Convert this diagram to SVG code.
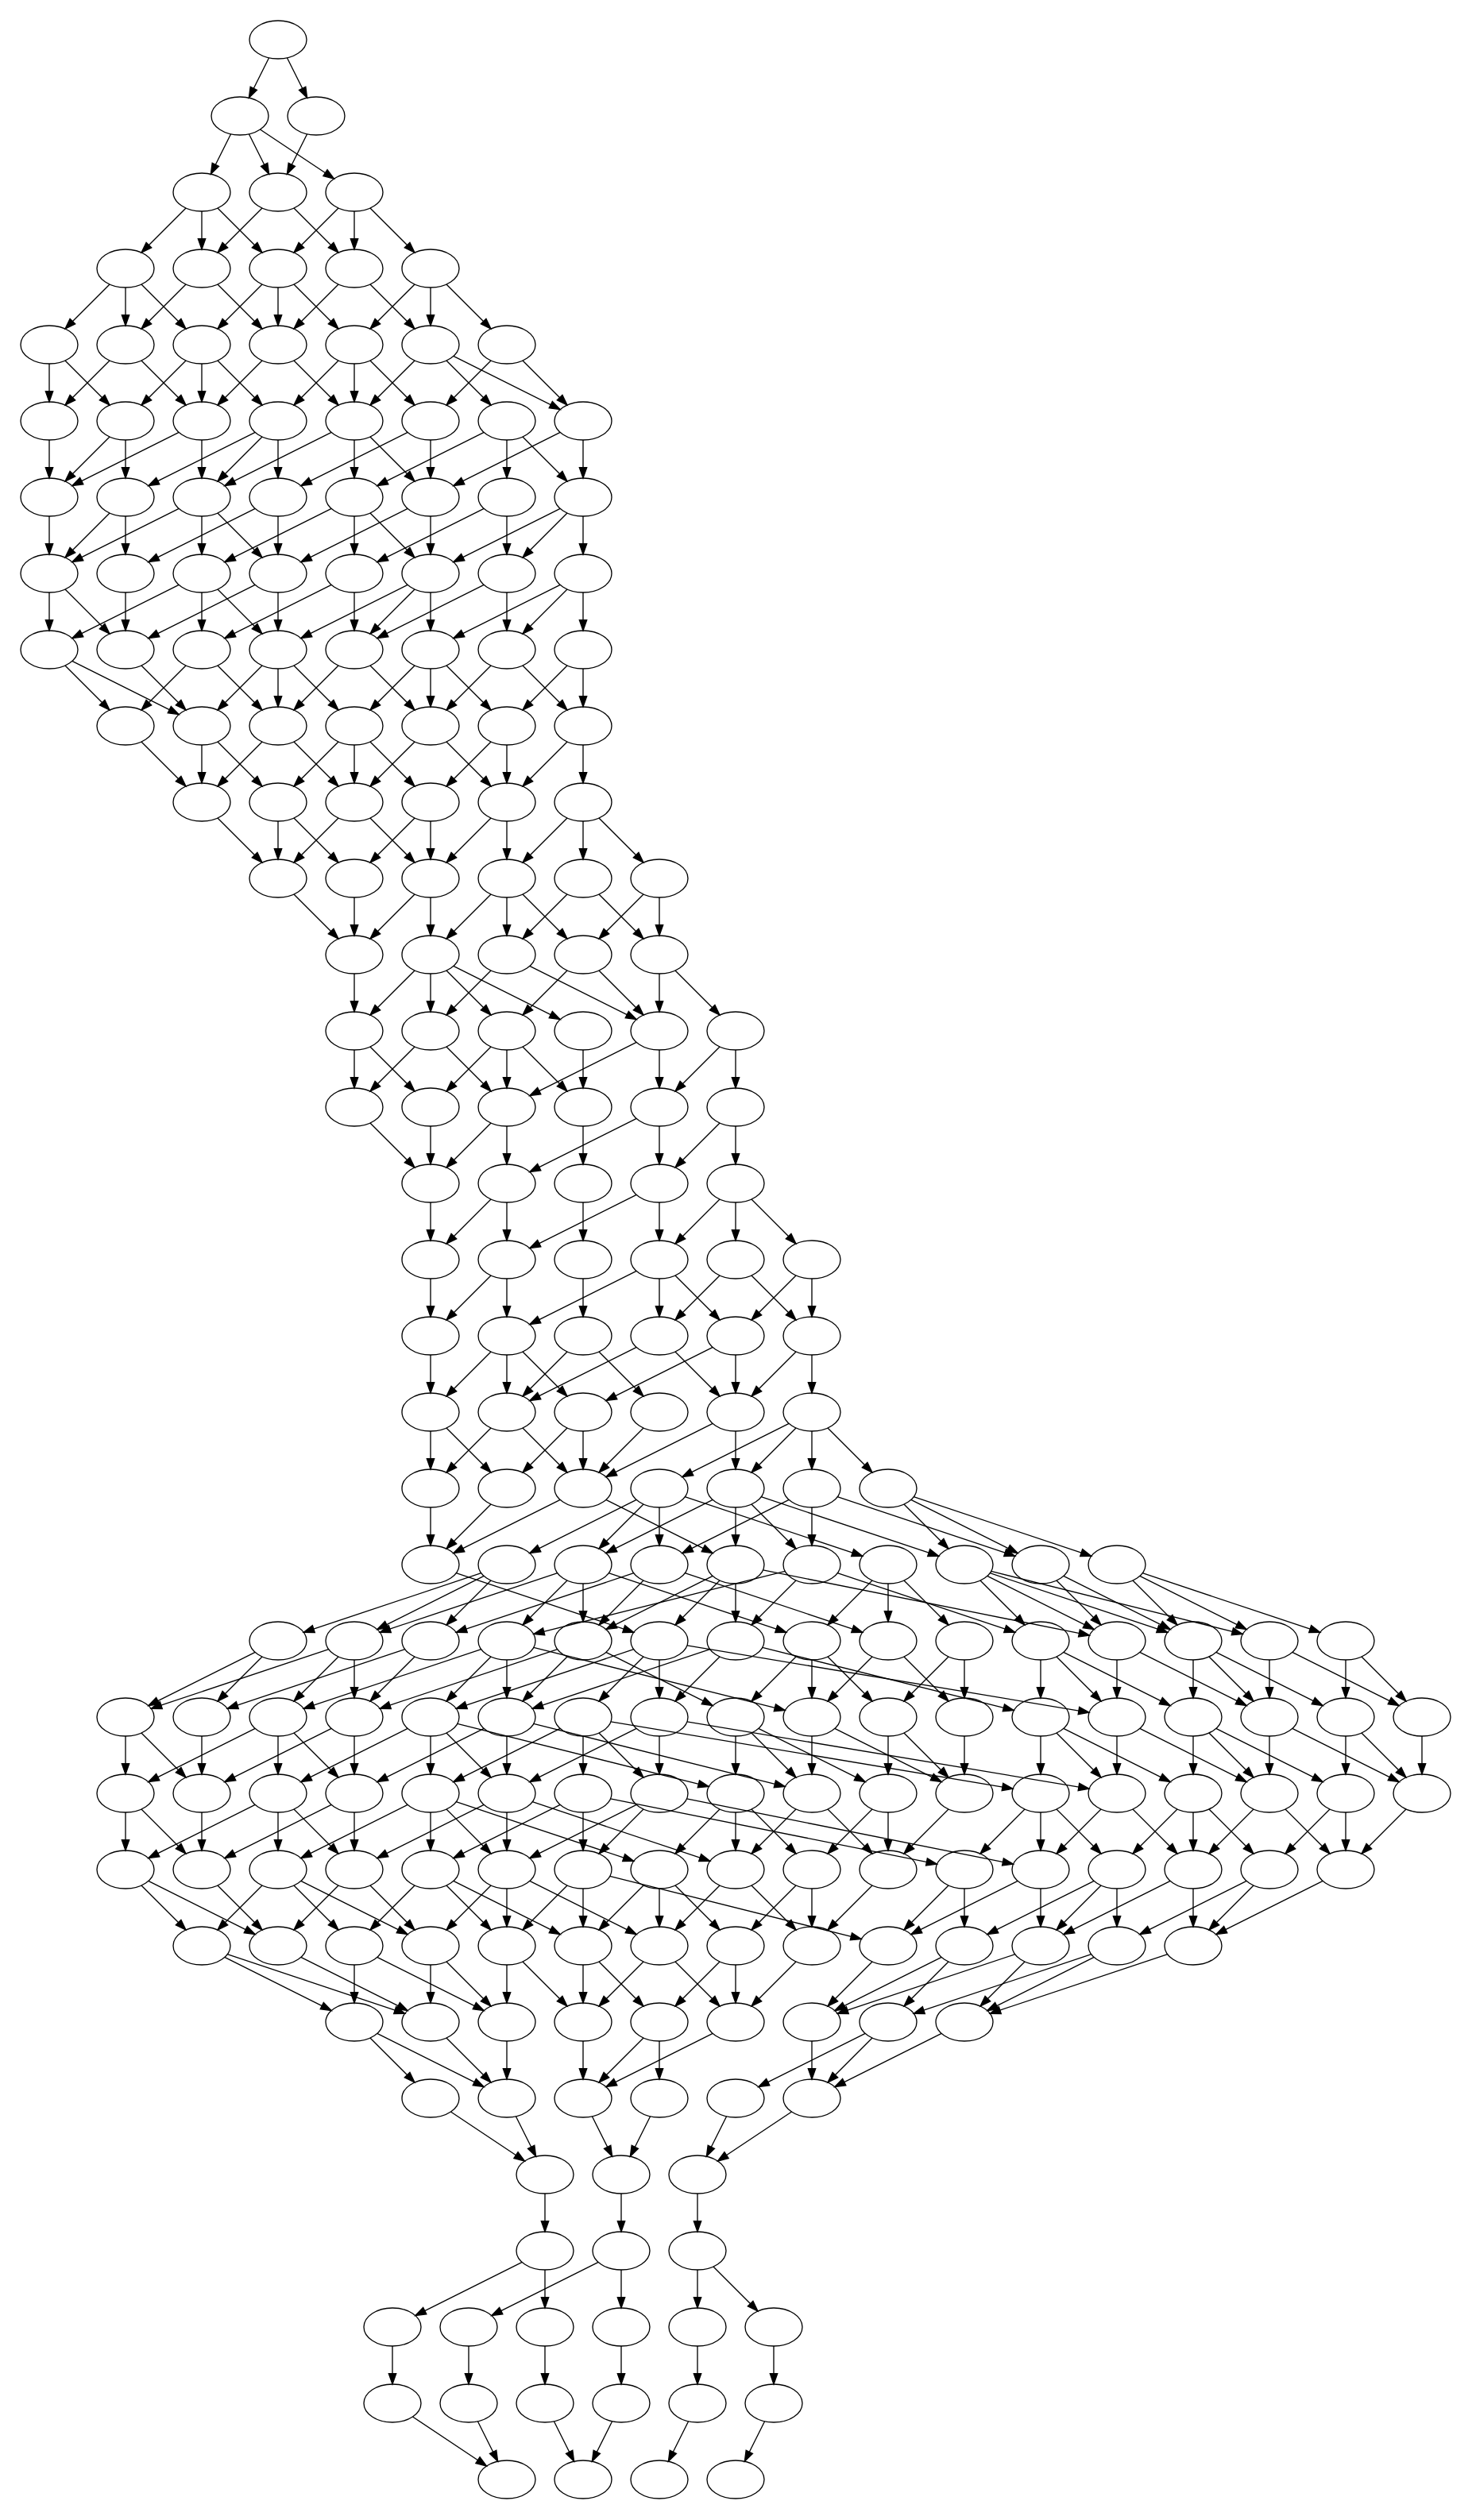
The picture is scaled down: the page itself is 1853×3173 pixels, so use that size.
<svg xmlns="http://www.w3.org/2000/svg" width="1853" height="3173" viewBox="0 0 1853 3173">
<style>
.nd{fill:none;stroke:#000;stroke-width:1.33}
#edges path{fill:none;stroke:#000;stroke-width:1.33}
marker path{fill:#000;stroke:#000;stroke-width:1.33}
.k0{stroke-dasharray:0 24 38 999;marker-end:url(#a0)}
.k1{stroke-dasharray:0 25.46 46.41 999;marker-end:url(#a1)}
.k2{stroke-dasharray:0 28.24 69.28 999;marker-end:url(#a2)}
.k3{stroke-dasharray:0 30.59 101.89 999;marker-end:url(#a3)}
.k4{stroke-dasharray:0 32.2 140.26 999;marker-end:url(#a4)}
.k6{stroke-dasharray:0 33.94 225.7 999;marker-end:url(#a6)}
.k8{stroke-dasharray:0 34.74 316.34 999;marker-end:url(#a8)}
.k10{stroke-dasharray:0 35.16 409.18 999;marker-end:url(#a10)}
.k12{stroke-dasharray:0 35.41 503.15 999;marker-end:url(#a12)}
</style>
<defs>
<marker id="a0" markerUnits="userSpaceOnUse" orient="auto" viewBox="-2 -7 64 14" markerWidth="64" markerHeight="14" refX="37.33" refY="0" overflow="visible"><path d="M0-4.67L13.33 0L0 4.67z"/></marker>
<marker id="a1" markerUnits="userSpaceOnUse" orient="auto" viewBox="-2 -7 64 14" markerWidth="64" markerHeight="14" refX="38.79" refY="0" overflow="visible"><path d="M0-4.67L13.33 0L0 4.67z"/></marker>
<marker id="a2" markerUnits="userSpaceOnUse" orient="auto" viewBox="-2 -7 64 14" markerWidth="64" markerHeight="14" refX="41.57" refY="0" overflow="visible"><path d="M0-4.67L13.33 0L0 4.67z"/></marker>
<marker id="a3" markerUnits="userSpaceOnUse" orient="auto" viewBox="-2 -7 64 14" markerWidth="64" markerHeight="14" refX="43.92" refY="0" overflow="visible"><path d="M0-4.67L13.33 0L0 4.67z"/></marker>
<marker id="a4" markerUnits="userSpaceOnUse" orient="auto" viewBox="-2 -7 64 14" markerWidth="64" markerHeight="14" refX="45.53" refY="0" overflow="visible"><path d="M0-4.67L13.33 0L0 4.67z"/></marker>
<marker id="a6" markerUnits="userSpaceOnUse" orient="auto" viewBox="-2 -7 64 14" markerWidth="64" markerHeight="14" refX="47.27" refY="0" overflow="visible"><path d="M0-4.67L13.33 0L0 4.67z"/></marker>
<marker id="a8" markerUnits="userSpaceOnUse" orient="auto" viewBox="-2 -7 64 14" markerWidth="64" markerHeight="14" refX="48.07" refY="0" overflow="visible"><path d="M0-4.67L13.33 0L0 4.67z"/></marker>
<marker id="a10" markerUnits="userSpaceOnUse" orient="auto" viewBox="-2 -7 64 14" markerWidth="64" markerHeight="14" refX="48.49" refY="0" overflow="visible"><path d="M0-4.67L13.33 0L0 4.67z"/></marker>
<marker id="a12" markerUnits="userSpaceOnUse" orient="auto" viewBox="-2 -7 64 14" markerWidth="64" markerHeight="14" refX="48.74" refY="0" overflow="visible"><path d="M0-4.67L13.33 0L0 4.67z"/></marker>
</defs>
<rect width="1853" height="3173" fill="#fff"/>
<g transform="translate(14 -46)">
<g id="edges">
<path class="k1" d="M336 96L288 192"/><path class="k1" d="M336 96L384 192"/>
<path class="k1" d="M288 192L240 288"/><path class="k1" d="M288 192L336 288"/><path class="k3" d="M288 192L432 288"/><path class="k1" d="M384 192L336 288"/>
<path class="k2" d="M240 288L144 384"/><path class="k0" d="M240 288L240 384"/><path class="k2" d="M240 288L336 384"/><path class="k2" d="M336 288L240 384"/><path class="k2" d="M336 288L432 384"/><path class="k2" d="M432 288L336 384"/><path class="k0" d="M432 288L432 384"/><path class="k2" d="M432 288L528 384"/>
<path class="k2" d="M144 384L48 480"/><path class="k0" d="M144 384L144 480"/><path class="k2" d="M144 384L240 480"/><path class="k2" d="M240 384L144 480"/><path class="k2" d="M240 384L336 480"/><path class="k2" d="M336 384L240 480"/><path class="k0" d="M336 384L336 480"/><path class="k2" d="M336 384L432 480"/><path class="k2" d="M432 384L336 480"/><path class="k2" d="M432 384L528 480"/><path class="k2" d="M528 384L432 480"/><path class="k0" d="M528 384L528 480"/><path class="k2" d="M528 384L624 480"/>
<path class="k0" d="M48 480L48 576"/><path class="k2" d="M48 480L144 576"/><path class="k2" d="M144 480L48 576"/><path class="k2" d="M144 480L240 576"/><path class="k2" d="M240 480L144 576"/><path class="k0" d="M240 480L240 576"/><path class="k2" d="M240 480L336 576"/><path class="k2" d="M336 480L240 576"/><path class="k2" d="M336 480L432 576"/><path class="k2" d="M432 480L336 576"/><path class="k0" d="M432 480L432 576"/><path class="k2" d="M432 480L528 576"/><path class="k2" d="M528 480L432 576"/><path class="k2" d="M528 480L624 576"/><path class="k4" d="M528 480L720 576"/><path class="k2" d="M624 480L528 576"/><path class="k2" d="M624 480L720 576"/>
<path class="k0" d="M48 576L48 672"/><path class="k2" d="M144 576L48 672"/><path class="k0" d="M144 576L144 672"/><path class="k4" d="M240 576L48 672"/><path class="k0" d="M240 576L240 672"/><path class="k4" d="M336 576L144 672"/><path class="k2" d="M336 576L240 672"/><path class="k0" d="M336 576L336 672"/><path class="k4" d="M432 576L240 672"/><path class="k0" d="M432 576L432 672"/><path class="k2" d="M432 576L528 672"/><path class="k4" d="M528 576L336 672"/><path class="k0" d="M528 576L528 672"/><path class="k4" d="M624 576L432 672"/><path class="k0" d="M624 576L624 672"/><path class="k2" d="M624 576L720 672"/><path class="k4" d="M720 576L528 672"/><path class="k0" d="M720 576L720 672"/>
<path class="k0" d="M48 672L48 768"/><path class="k2" d="M144 672L48 768"/><path class="k0" d="M144 672L144 768"/><path class="k4" d="M240 672L48 768"/><path class="k0" d="M240 672L240 768"/><path class="k2" d="M240 672L336 768"/><path class="k4" d="M336 672L144 768"/><path class="k0" d="M336 672L336 768"/><path class="k4" d="M432 672L240 768"/><path class="k0" d="M432 672L432 768"/><path class="k2" d="M432 672L528 768"/><path class="k4" d="M528 672L336 768"/><path class="k0" d="M528 672L528 768"/><path class="k4" d="M624 672L432 768"/><path class="k0" d="M624 672L624 768"/><path class="k4" d="M720 672L528 768"/><path class="k2" d="M720 672L624 768"/><path class="k0" d="M720 672L720 768"/>
<path class="k0" d="M48 768L48 864"/><path class="k2" d="M48 768L144 864"/><path class="k0" d="M144 768L144 864"/><path class="k4" d="M240 768L48 864"/><path class="k0" d="M240 768L240 864"/><path class="k2" d="M240 768L336 864"/><path class="k4" d="M336 768L144 864"/><path class="k0" d="M336 768L336 864"/><path class="k4" d="M432 768L240 864"/><path class="k0" d="M432 768L432 864"/><path class="k4" d="M528 768L336 864"/><path class="k2" d="M528 768L432 864"/><path class="k0" d="M528 768L528 864"/><path class="k4" d="M624 768L432 864"/><path class="k0" d="M624 768L624 864"/><path class="k4" d="M720 768L528 864"/><path class="k2" d="M720 768L624 864"/><path class="k0" d="M720 768L720 864"/>
<path class="k2" d="M48 864L144 960"/><path class="k4" d="M48 864L240 960"/><path class="k2" d="M144 864L240 960"/><path class="k2" d="M240 864L144 960"/><path class="k2" d="M240 864L336 960"/><path class="k2" d="M336 864L240 960"/><path class="k0" d="M336 864L336 960"/><path class="k2" d="M336 864L432 960"/><path class="k2" d="M432 864L336 960"/><path class="k2" d="M432 864L528 960"/><path class="k2" d="M528 864L432 960"/><path class="k0" d="M528 864L528 960"/><path class="k2" d="M528 864L624 960"/><path class="k2" d="M624 864L528 960"/><path class="k2" d="M624 864L720 960"/><path class="k2" d="M720 864L624 960"/><path class="k0" d="M720 864L720 960"/>
<path class="k2" d="M144 960L240 1056"/><path class="k0" d="M240 960L240 1056"/><path class="k2" d="M240 960L336 1056"/><path class="k2" d="M336 960L240 1056"/><path class="k2" d="M336 960L432 1056"/><path class="k2" d="M432 960L336 1056"/><path class="k0" d="M432 960L432 1056"/><path class="k2" d="M432 960L528 1056"/><path class="k2" d="M528 960L432 1056"/><path class="k2" d="M528 960L624 1056"/><path class="k2" d="M624 960L528 1056"/><path class="k0" d="M624 960L624 1056"/><path class="k2" d="M720 960L624 1056"/><path class="k0" d="M720 960L720 1056"/>
<path class="k2" d="M240 1056L336 1152"/><path class="k0" d="M336 1056L336 1152"/><path class="k2" d="M336 1056L432 1152"/><path class="k2" d="M432 1056L336 1152"/><path class="k2" d="M432 1056L528 1152"/><path class="k2" d="M528 1056L432 1152"/><path class="k0" d="M528 1056L528 1152"/><path class="k2" d="M624 1056L528 1152"/><path class="k0" d="M624 1056L624 1152"/><path class="k2" d="M720 1056L624 1152"/><path class="k0" d="M720 1056L720 1152"/><path class="k2" d="M720 1056L816 1152"/>
<path class="k2" d="M336 1152L432 1248"/><path class="k0" d="M432 1152L432 1248"/><path class="k2" d="M528 1152L432 1248"/><path class="k0" d="M528 1152L528 1248"/><path class="k2" d="M624 1152L528 1248"/><path class="k0" d="M624 1152L624 1248"/><path class="k2" d="M624 1152L720 1248"/><path class="k2" d="M720 1152L624 1248"/><path class="k2" d="M720 1152L816 1248"/><path class="k2" d="M816 1152L720 1248"/><path class="k0" d="M816 1152L816 1248"/>
<path class="k0" d="M432 1248L432 1344"/><path class="k2" d="M528 1248L432 1344"/><path class="k0" d="M528 1248L528 1344"/><path class="k2" d="M528 1248L624 1344"/><path class="k4" d="M528 1248L720 1344"/><path class="k2" d="M624 1248L528 1344"/><path class="k4" d="M624 1248L816 1344"/><path class="k2" d="M720 1248L624 1344"/><path class="k2" d="M720 1248L816 1344"/><path class="k0" d="M816 1248L816 1344"/><path class="k2" d="M816 1248L912 1344"/>
<path class="k0" d="M432 1344L432 1440"/><path class="k2" d="M432 1344L528 1440"/><path class="k2" d="M528 1344L432 1440"/><path class="k2" d="M528 1344L624 1440"/><path class="k2" d="M624 1344L528 1440"/><path class="k0" d="M624 1344L624 1440"/><path class="k2" d="M624 1344L720 1440"/><path class="k0" d="M720 1344L720 1440"/><path class="k4" d="M816 1344L624 1440"/><path class="k0" d="M816 1344L816 1440"/><path class="k2" d="M912 1344L816 1440"/><path class="k0" d="M912 1344L912 1440"/>
<path class="k2" d="M432 1440L528 1536"/><path class="k0" d="M528 1440L528 1536"/><path class="k2" d="M624 1440L528 1536"/><path class="k0" d="M624 1440L624 1536"/><path class="k0" d="M720 1440L720 1536"/><path class="k4" d="M816 1440L624 1536"/><path class="k0" d="M816 1440L816 1536"/><path class="k2" d="M912 1440L816 1536"/><path class="k0" d="M912 1440L912 1536"/>
<path class="k0" d="M528 1536L528 1632"/><path class="k2" d="M624 1536L528 1632"/><path class="k0" d="M624 1536L624 1632"/><path class="k0" d="M720 1536L720 1632"/><path class="k4" d="M816 1536L624 1632"/><path class="k0" d="M816 1536L816 1632"/><path class="k2" d="M912 1536L816 1632"/><path class="k0" d="M912 1536L912 1632"/><path class="k2" d="M912 1536L1008 1632"/>
<path class="k0" d="M528 1632L528 1728"/><path class="k2" d="M624 1632L528 1728"/><path class="k0" d="M624 1632L624 1728"/><path class="k0" d="M720 1632L720 1728"/><path class="k4" d="M816 1632L624 1728"/><path class="k0" d="M816 1632L816 1728"/><path class="k2" d="M816 1632L912 1728"/><path class="k2" d="M912 1632L816 1728"/><path class="k2" d="M912 1632L1008 1728"/><path class="k2" d="M1008 1632L912 1728"/><path class="k0" d="M1008 1632L1008 1728"/>
<path class="k0" d="M528 1728L528 1824"/><path class="k2" d="M624 1728L528 1824"/><path class="k0" d="M624 1728L624 1824"/><path class="k2" d="M624 1728L720 1824"/><path class="k2" d="M720 1728L624 1824"/><path class="k2" d="M720 1728L816 1824"/><path class="k4" d="M816 1728L624 1824"/><path class="k2" d="M816 1728L912 1824"/><path class="k4" d="M912 1728L720 1824"/><path class="k0" d="M912 1728L912 1824"/><path class="k2" d="M1008 1728L912 1824"/><path class="k0" d="M1008 1728L1008 1824"/>
<path class="k0" d="M528 1824L528 1920"/><path class="k2" d="M528 1824L624 1920"/><path class="k2" d="M624 1824L528 1920"/><path class="k2" d="M624 1824L720 1920"/><path class="k2" d="M720 1824L624 1920"/><path class="k0" d="M720 1824L720 1920"/><path class="k2" d="M816 1824L720 1920"/><path class="k4" d="M912 1824L720 1920"/><path class="k0" d="M912 1824L912 1920"/><path class="k4" d="M1008 1824L816 1920"/><path class="k2" d="M1008 1824L912 1920"/><path class="k0" d="M1008 1824L1008 1920"/><path class="k2" d="M1008 1824L1104 1920"/>
<path class="k0" d="M528 1920L528 2016"/><path class="k2" d="M624 1920L528 2016"/><path class="k4" d="M720 1920L528 2016"/><path class="k4" d="M720 1920L912 2016"/><path class="k4" d="M816 1920L624 2016"/><path class="k2" d="M816 1920L720 2016"/><path class="k0" d="M816 1920L816 2016"/><path class="k6" d="M816 1920L1104 2016"/><path class="k4" d="M912 1920L720 2016"/><path class="k0" d="M912 1920L912 2016"/><path class="k2" d="M912 1920L1008 2016"/><path class="k6" d="M912 1920L1200 2016"/><path class="k4" d="M1008 1920L816 2016"/><path class="k0" d="M1008 1920L1008 2016"/><path class="k6" d="M1008 1920L1296 2016"/><path class="k2" d="M1104 1920L1200 2016"/><path class="k4" d="M1104 1920L1296 2016"/><path class="k6" d="M1104 1920L1392 2016"/>
<path class="k6" d="M528 2016L816 2112"/><path class="k6" d="M624 2016L336 2112"/><path class="k4" d="M624 2016L432 2112"/><path class="k2" d="M624 2016L528 2112"/><path class="k6" d="M720 2016L432 2112"/><path class="k2" d="M720 2016L624 2112"/><path class="k0" d="M720 2016L720 2112"/><path class="k6" d="M720 2016L1008 2112"/><path class="k6" d="M816 2016L528 2112"/><path class="k2" d="M816 2016L720 2112"/><path class="k6" d="M816 2016L1104 2112"/><path class="k4" d="M912 2016L720 2112"/><path class="k2" d="M912 2016L816 2112"/><path class="k0" d="M912 2016L912 2112"/><path class="k10" d="M912 2016L1392 2112"/><path class="k8" d="M1008 2016L624 2112"/><path class="k2" d="M1008 2016L912 2112"/><path class="k6" d="M1008 2016L1296 2112"/><path class="k2" d="M1104 2016L1008 2112"/><path class="k0" d="M1104 2016L1104 2112"/><path class="k2" d="M1104 2016L1200 2112"/><path class="k2" d="M1200 2016L1296 2112"/><path class="k4" d="M1200 2016L1392 2112"/><path class="k6" d="M1200 2016L1488 2112"/><path class="k8" d="M1200 2016L1584 2112"/><path class="k2" d="M1296 2016L1392 2112"/><path class="k4" d="M1296 2016L1488 2112"/><path class="k2" d="M1392 2016L1488 2112"/><path class="k4" d="M1392 2016L1584 2112"/><path class="k6" d="M1392 2016L1680 2112"/>
<path class="k4" d="M336 2112L144 2208"/><path class="k2" d="M336 2112L240 2208"/><path class="k6" d="M432 2112L144 2208"/><path class="k2" d="M432 2112L336 2208"/><path class="k0" d="M432 2112L432 2208"/><path class="k6" d="M528 2112L240 2208"/><path class="k2" d="M528 2112L432 2208"/><path class="k6" d="M624 2112L336 2208"/><path class="k2" d="M624 2112L528 2208"/><path class="k0" d="M624 2112L624 2208"/><path class="k8" d="M624 2112L1008 2208"/><path class="k6" d="M720 2112L432 2208"/><path class="k2" d="M720 2112L624 2208"/><path class="k4" d="M720 2112L912 2208"/><path class="k6" d="M816 2112L528 2208"/><path class="k2" d="M816 2112L720 2208"/><path class="k0" d="M816 2112L816 2208"/><path class="k12" d="M816 2112L1392 2208"/><path class="k6" d="M912 2112L624 2208"/><path class="k2" d="M912 2112L816 2208"/><path class="k8" d="M912 2112L1296 2208"/><path class="k2" d="M1008 2112L912 2208"/><path class="k0" d="M1008 2112L1008 2208"/><path class="k2" d="M1008 2112L1104 2208"/><path class="k2" d="M1104 2112L1008 2208"/><path class="k2" d="M1104 2112L1200 2208"/><path class="k2" d="M1200 2112L1104 2208"/><path class="k0" d="M1200 2112L1200 2208"/><path class="k0" d="M1296 2112L1296 2208"/><path class="k2" d="M1296 2112L1392 2208"/><path class="k4" d="M1296 2112L1488 2208"/><path class="k0" d="M1392 2112L1392 2208"/><path class="k4" d="M1392 2112L1584 2208"/><path class="k0" d="M1488 2112L1488 2208"/><path class="k2" d="M1488 2112L1584 2208"/><path class="k4" d="M1488 2112L1680 2208"/><path class="k0" d="M1584 2112L1584 2208"/><path class="k4" d="M1584 2112L1776 2208"/><path class="k0" d="M1680 2112L1680 2208"/><path class="k2" d="M1680 2112L1776 2208"/>
<path class="k0" d="M144 2208L144 2304"/><path class="k2" d="M144 2208L240 2304"/><path class="k0" d="M240 2208L240 2304"/><path class="k4" d="M336 2208L144 2304"/><path class="k0" d="M336 2208L336 2304"/><path class="k2" d="M336 2208L432 2304"/><path class="k4" d="M432 2208L240 2304"/><path class="k0" d="M432 2208L432 2304"/><path class="k4" d="M528 2208L336 2304"/><path class="k0" d="M528 2208L528 2304"/><path class="k2" d="M528 2208L624 2304"/><path class="k8" d="M528 2208L912 2304"/><path class="k4" d="M624 2208L432 2304"/><path class="k0" d="M624 2208L624 2304"/><path class="k8" d="M624 2208L1008 2304"/><path class="k4" d="M720 2208L528 2304"/><path class="k0" d="M720 2208L720 2304"/><path class="k2" d="M720 2208L816 2304"/><path class="k12" d="M720 2208L1296 2304"/><path class="k4" d="M816 2208L624 2304"/><path class="k0" d="M816 2208L816 2304"/><path class="k12" d="M816 2208L1392 2304"/><path class="k0" d="M912 2208L912 2304"/><path class="k2" d="M912 2208L1008 2304"/><path class="k4" d="M912 2208L1104 2304"/><path class="k0" d="M1008 2208L1008 2304"/><path class="k4" d="M1008 2208L1200 2304"/><path class="k0" d="M1104 2208L1104 2304"/><path class="k2" d="M1104 2208L1200 2304"/><path class="k0" d="M1200 2208L1200 2304"/><path class="k0" d="M1296 2208L1296 2304"/><path class="k2" d="M1296 2208L1392 2304"/><path class="k4" d="M1296 2208L1488 2304"/><path class="k0" d="M1392 2208L1392 2304"/><path class="k4" d="M1392 2208L1584 2304"/><path class="k0" d="M1488 2208L1488 2304"/><path class="k2" d="M1488 2208L1584 2304"/><path class="k4" d="M1488 2208L1680 2304"/><path class="k0" d="M1584 2208L1584 2304"/><path class="k4" d="M1584 2208L1776 2304"/><path class="k0" d="M1680 2208L1680 2304"/><path class="k2" d="M1680 2208L1776 2304"/><path class="k0" d="M1776 2208L1776 2304"/>
<path class="k0" d="M144 2304L144 2400"/><path class="k2" d="M144 2304L240 2400"/><path class="k0" d="M240 2304L240 2400"/><path class="k4" d="M336 2304L144 2400"/><path class="k0" d="M336 2304L336 2400"/><path class="k2" d="M336 2304L432 2400"/><path class="k4" d="M432 2304L240 2400"/><path class="k0" d="M432 2304L432 2400"/><path class="k4" d="M528 2304L336 2400"/><path class="k0" d="M528 2304L528 2400"/><path class="k2" d="M528 2304L624 2400"/><path class="k6" d="M528 2304L816 2400"/><path class="k4" d="M624 2304L432 2400"/><path class="k0" d="M624 2304L624 2400"/><path class="k6" d="M624 2304L912 2400"/><path class="k4" d="M720 2304L528 2400"/><path class="k0" d="M720 2304L720 2400"/><path class="k10" d="M720 2304L1200 2400"/><path class="k4" d="M816 2304L624 2400"/><path class="k2" d="M816 2304L720 2400"/><path class="k10" d="M816 2304L1296 2400"/><path class="k2" d="M912 2304L816 2400"/><path class="k0" d="M912 2304L912 2400"/><path class="k2" d="M912 2304L1008 2400"/><path class="k2" d="M1008 2304L912 2400"/><path class="k2" d="M1008 2304L1104 2400"/><path class="k2" d="M1104 2304L1008 2400"/><path class="k0" d="M1104 2304L1104 2400"/><path class="k2" d="M1200 2304L1104 2400"/><path class="k2" d="M1296 2304L1200 2400"/><path class="k0" d="M1296 2304L1296 2400"/><path class="k2" d="M1296 2304L1392 2400"/><path class="k2" d="M1392 2304L1296 2400"/><path class="k2" d="M1392 2304L1488 2400"/><path class="k2" d="M1488 2304L1392 2400"/><path class="k0" d="M1488 2304L1488 2400"/><path class="k2" d="M1488 2304L1584 2400"/><path class="k2" d="M1584 2304L1488 2400"/><path class="k2" d="M1584 2304L1680 2400"/><path class="k2" d="M1680 2304L1584 2400"/><path class="k0" d="M1680 2304L1680 2400"/><path class="k2" d="M1776 2304L1680 2400"/>
<path class="k2" d="M144 2400L240 2496"/><path class="k4" d="M144 2400L336 2496"/><path class="k2" d="M240 2400L336 2496"/><path class="k2" d="M336 2400L240 2496"/><path class="k2" d="M336 2400L432 2496"/><path class="k4" d="M336 2400L528 2496"/><path class="k2" d="M432 2400L336 2496"/><path class="k2" d="M432 2400L528 2496"/><path class="k2" d="M528 2400L432 2496"/><path class="k2" d="M528 2400L624 2496"/><path class="k4" d="M528 2400L720 2496"/><path class="k2" d="M624 2400L528 2496"/><path class="k0" d="M624 2400L624 2496"/><path class="k4" d="M624 2400L816 2496"/><path class="k2" d="M720 2400L624 2496"/><path class="k0" d="M720 2400L720 2496"/><path class="k8" d="M720 2400L1104 2496"/><path class="k2" d="M816 2400L720 2496"/><path class="k0" d="M816 2400L816 2496"/><path class="k2" d="M816 2400L912 2496"/><path class="k2" d="M912 2400L816 2496"/><path class="k2" d="M912 2400L1008 2496"/><path class="k2" d="M1008 2400L912 2496"/><path class="k0" d="M1008 2400L1008 2496"/><path class="k2" d="M1104 2400L1008 2496"/><path class="k2" d="M1200 2400L1104 2496"/><path class="k0" d="M1200 2400L1200 2496"/><path class="k4" d="M1296 2400L1104 2496"/><path class="k0" d="M1296 2400L1296 2496"/><path class="k4" d="M1392 2400L1200 2496"/><path class="k2" d="M1392 2400L1296 2496"/><path class="k0" d="M1392 2400L1392 2496"/><path class="k4" d="M1488 2400L1296 2496"/><path class="k0" d="M1488 2400L1488 2496"/><path class="k4" d="M1584 2400L1392 2496"/><path class="k2" d="M1584 2400L1488 2496"/><path class="k4" d="M1680 2400L1488 2496"/>
<path class="k4" d="M240 2496L432 2592"/><path class="k6" d="M240 2496L528 2592"/><path class="k4" d="M336 2496L528 2592"/><path class="k0" d="M432 2496L432 2592"/><path class="k4" d="M432 2496L624 2592"/><path class="k0" d="M528 2496L528 2592"/><path class="k2" d="M528 2496L624 2592"/><path class="k0" d="M624 2496L624 2592"/><path class="k2" d="M624 2496L720 2592"/><path class="k0" d="M720 2496L720 2592"/><path class="k2" d="M720 2496L816 2592"/><path class="k2" d="M816 2496L720 2592"/><path class="k2" d="M816 2496L912 2592"/><path class="k2" d="M912 2496L816 2592"/><path class="k0" d="M912 2496L912 2592"/><path class="k2" d="M1008 2496L912 2592"/><path class="k2" d="M1104 2496L1008 2592"/><path class="k4" d="M1200 2496L1008 2592"/><path class="k2" d="M1200 2496L1104 2592"/><path class="k6" d="M1296 2496L1008 2592"/><path class="k2" d="M1296 2496L1200 2592"/><path class="k6" d="M1392 2496L1104 2592"/><path class="k4" d="M1392 2496L1200 2592"/><path class="k6" d="M1488 2496L1200 2592"/>
<path class="k2" d="M432 2592L528 2688"/><path class="k4" d="M432 2592L624 2688"/><path class="k2" d="M528 2592L624 2688"/><path class="k0" d="M624 2592L624 2688"/><path class="k0" d="M720 2592L720 2688"/><path class="k2" d="M816 2592L720 2688"/><path class="k0" d="M816 2592L816 2688"/><path class="k4" d="M912 2592L720 2688"/><path class="k0" d="M1008 2592L1008 2688"/><path class="k4" d="M1104 2592L912 2688"/><path class="k2" d="M1104 2592L1008 2688"/><path class="k4" d="M1200 2592L1008 2688"/>
<path class="k3" d="M528 2688L672 2784"/><path class="k1" d="M624 2688L672 2784"/><path class="k1" d="M720 2688L768 2784"/><path class="k1" d="M816 2688L768 2784"/><path class="k1" d="M912 2688L864 2784"/><path class="k3" d="M1008 2688L864 2784"/>
<path class="k0" d="M672 2784L672 2880"/><path class="k0" d="M768 2784L768 2880"/><path class="k0" d="M864 2784L864 2880"/>
<path class="k4" d="M672 2880L480 2976"/><path class="k0" d="M672 2880L672 2976"/><path class="k4" d="M768 2880L576 2976"/><path class="k0" d="M768 2880L768 2976"/><path class="k0" d="M864 2880L864 2976"/><path class="k2" d="M864 2880L960 2976"/>
<path class="k0" d="M480 2976L480 3072"/><path class="k0" d="M576 2976L576 3072"/><path class="k0" d="M672 2976L672 3072"/><path class="k0" d="M768 2976L768 3072"/><path class="k0" d="M864 2976L864 3072"/><path class="k0" d="M960 2976L960 3072"/>
<path class="k3" d="M480 3072L624 3168"/><path class="k1" d="M576 3072L624 3168"/><path class="k1" d="M672 3072L720 3168"/><path class="k1" d="M768 3072L720 3168"/><path class="k1" d="M864 3072L816 3168"/><path class="k1" d="M960 3072L912 3168"/>
</g>
<g id="nodes">
<g id="r1c7"><ellipse class="nd" cx="336" cy="96" rx="36" ry="24"/></g>
<g id="r2c6"><ellipse class="nd" cx="288" cy="192" rx="36" ry="24"/></g>
<g id="r2c8"><ellipse class="nd" cx="384" cy="192" rx="36" ry="24"/></g>
<g id="r3c5"><ellipse class="nd" cx="240" cy="288" rx="36" ry="24"/></g>
<g id="r3c7"><ellipse class="nd" cx="336" cy="288" rx="36" ry="24"/></g>
<g id="r3c9"><ellipse class="nd" cx="432" cy="288" rx="36" ry="24"/></g>
<g id="r4c3"><ellipse class="nd" cx="144" cy="384" rx="36" ry="24"/></g>
<g id="r4c5"><ellipse class="nd" cx="240" cy="384" rx="36" ry="24"/></g>
<g id="r4c7"><ellipse class="nd" cx="336" cy="384" rx="36" ry="24"/></g>
<g id="r4c9"><ellipse class="nd" cx="432" cy="384" rx="36" ry="24"/></g>
<g id="r4c11"><ellipse class="nd" cx="528" cy="384" rx="36" ry="24"/></g>
<g id="r5c1"><ellipse class="nd" cx="48" cy="480" rx="36" ry="24"/></g>
<g id="r5c3"><ellipse class="nd" cx="144" cy="480" rx="36" ry="24"/></g>
<g id="r5c5"><ellipse class="nd" cx="240" cy="480" rx="36" ry="24"/></g>
<g id="r5c7"><ellipse class="nd" cx="336" cy="480" rx="36" ry="24"/></g>
<g id="r5c9"><ellipse class="nd" cx="432" cy="480" rx="36" ry="24"/></g>
<g id="r5c11"><ellipse class="nd" cx="528" cy="480" rx="36" ry="24"/></g>
<g id="r5c13"><ellipse class="nd" cx="624" cy="480" rx="36" ry="24"/></g>
<g id="r6c1"><ellipse class="nd" cx="48" cy="576" rx="36" ry="24"/></g>
<g id="r6c3"><ellipse class="nd" cx="144" cy="576" rx="36" ry="24"/></g>
<g id="r6c5"><ellipse class="nd" cx="240" cy="576" rx="36" ry="24"/></g>
<g id="r6c7"><ellipse class="nd" cx="336" cy="576" rx="36" ry="24"/></g>
<g id="r6c9"><ellipse class="nd" cx="432" cy="576" rx="36" ry="24"/></g>
<g id="r6c11"><ellipse class="nd" cx="528" cy="576" rx="36" ry="24"/></g>
<g id="r6c13"><ellipse class="nd" cx="624" cy="576" rx="36" ry="24"/></g>
<g id="r6c15"><ellipse class="nd" cx="720" cy="576" rx="36" ry="24"/></g>
<g id="r7c1"><ellipse class="nd" cx="48" cy="672" rx="36" ry="24"/></g>
<g id="r7c3"><ellipse class="nd" cx="144" cy="672" rx="36" ry="24"/></g>
<g id="r7c5"><ellipse class="nd" cx="240" cy="672" rx="36" ry="24"/></g>
<g id="r7c7"><ellipse class="nd" cx="336" cy="672" rx="36" ry="24"/></g>
<g id="r7c9"><ellipse class="nd" cx="432" cy="672" rx="36" ry="24"/></g>
<g id="r7c11"><ellipse class="nd" cx="528" cy="672" rx="36" ry="24"/></g>
<g id="r7c13"><ellipse class="nd" cx="624" cy="672" rx="36" ry="24"/></g>
<g id="r7c15"><ellipse class="nd" cx="720" cy="672" rx="36" ry="24"/></g>
<g id="r8c1"><ellipse class="nd" cx="48" cy="768" rx="36" ry="24"/></g>
<g id="r8c3"><ellipse class="nd" cx="144" cy="768" rx="36" ry="24"/></g>
<g id="r8c5"><ellipse class="nd" cx="240" cy="768" rx="36" ry="24"/></g>
<g id="r8c7"><ellipse class="nd" cx="336" cy="768" rx="36" ry="24"/></g>
<g id="r8c9"><ellipse class="nd" cx="432" cy="768" rx="36" ry="24"/></g>
<g id="r8c11"><ellipse class="nd" cx="528" cy="768" rx="36" ry="24"/></g>
<g id="r8c13"><ellipse class="nd" cx="624" cy="768" rx="36" ry="24"/></g>
<g id="r8c15"><ellipse class="nd" cx="720" cy="768" rx="36" ry="24"/></g>
<g id="r9c1"><ellipse class="nd" cx="48" cy="864" rx="36" ry="24"/></g>
<g id="r9c3"><ellipse class="nd" cx="144" cy="864" rx="36" ry="24"/></g>
<g id="r9c5"><ellipse class="nd" cx="240" cy="864" rx="36" ry="24"/></g>
<g id="r9c7"><ellipse class="nd" cx="336" cy="864" rx="36" ry="24"/></g>
<g id="r9c9"><ellipse class="nd" cx="432" cy="864" rx="36" ry="24"/></g>
<g id="r9c11"><ellipse class="nd" cx="528" cy="864" rx="36" ry="24"/></g>
<g id="r9c13"><ellipse class="nd" cx="624" cy="864" rx="36" ry="24"/></g>
<g id="r9c15"><ellipse class="nd" cx="720" cy="864" rx="36" ry="24"/></g>
<g id="r10c3"><ellipse class="nd" cx="144" cy="960" rx="36" ry="24"/></g>
<g id="r10c5"><ellipse class="nd" cx="240" cy="960" rx="36" ry="24"/></g>
<g id="r10c7"><ellipse class="nd" cx="336" cy="960" rx="36" ry="24"/></g>
<g id="r10c9"><ellipse class="nd" cx="432" cy="960" rx="36" ry="24"/></g>
<g id="r10c11"><ellipse class="nd" cx="528" cy="960" rx="36" ry="24"/></g>
<g id="r10c13"><ellipse class="nd" cx="624" cy="960" rx="36" ry="24"/></g>
<g id="r10c15"><ellipse class="nd" cx="720" cy="960" rx="36" ry="24"/></g>
<g id="r11c5"><ellipse class="nd" cx="240" cy="1056" rx="36" ry="24"/></g>
<g id="r11c7"><ellipse class="nd" cx="336" cy="1056" rx="36" ry="24"/></g>
<g id="r11c9"><ellipse class="nd" cx="432" cy="1056" rx="36" ry="24"/></g>
<g id="r11c11"><ellipse class="nd" cx="528" cy="1056" rx="36" ry="24"/></g>
<g id="r11c13"><ellipse class="nd" cx="624" cy="1056" rx="36" ry="24"/></g>
<g id="r11c15"><ellipse class="nd" cx="720" cy="1056" rx="36" ry="24"/></g>
<g id="r12c7"><ellipse class="nd" cx="336" cy="1152" rx="36" ry="24"/></g>
<g id="r12c9"><ellipse class="nd" cx="432" cy="1152" rx="36" ry="24"/></g>
<g id="r12c11"><ellipse class="nd" cx="528" cy="1152" rx="36" ry="24"/></g>
<g id="r12c13"><ellipse class="nd" cx="624" cy="1152" rx="36" ry="24"/></g>
<g id="r12c15"><ellipse class="nd" cx="720" cy="1152" rx="36" ry="24"/></g>
<g id="r12c17"><ellipse class="nd" cx="816" cy="1152" rx="36" ry="24"/></g>
<g id="r13c9"><ellipse class="nd" cx="432" cy="1248" rx="36" ry="24"/></g>
<g id="r13c11"><ellipse class="nd" cx="528" cy="1248" rx="36" ry="24"/></g>
<g id="r13c13"><ellipse class="nd" cx="624" cy="1248" rx="36" ry="24"/></g>
<g id="r13c15"><ellipse class="nd" cx="720" cy="1248" rx="36" ry="24"/></g>
<g id="r13c17"><ellipse class="nd" cx="816" cy="1248" rx="36" ry="24"/></g>
<g id="r14c9"><ellipse class="nd" cx="432" cy="1344" rx="36" ry="24"/></g>
<g id="r14c11"><ellipse class="nd" cx="528" cy="1344" rx="36" ry="24"/></g>
<g id="r14c13"><ellipse class="nd" cx="624" cy="1344" rx="36" ry="24"/></g>
<g id="r14c15"><ellipse class="nd" cx="720" cy="1344" rx="36" ry="24"/></g>
<g id="r14c17"><ellipse class="nd" cx="816" cy="1344" rx="36" ry="24"/></g>
<g id="r14c19"><ellipse class="nd" cx="912" cy="1344" rx="36" ry="24"/></g>
<g id="r15c9"><ellipse class="nd" cx="432" cy="1440" rx="36" ry="24"/></g>
<g id="r15c11"><ellipse class="nd" cx="528" cy="1440" rx="36" ry="24"/></g>
<g id="r15c13"><ellipse class="nd" cx="624" cy="1440" rx="36" ry="24"/></g>
<g id="r15c15"><ellipse class="nd" cx="720" cy="1440" rx="36" ry="24"/></g>
<g id="r15c17"><ellipse class="nd" cx="816" cy="1440" rx="36" ry="24"/></g>
<g id="r15c19"><ellipse class="nd" cx="912" cy="1440" rx="36" ry="24"/></g>
<g id="r16c11"><ellipse class="nd" cx="528" cy="1536" rx="36" ry="24"/></g>
<g id="r16c13"><ellipse class="nd" cx="624" cy="1536" rx="36" ry="24"/></g>
<g id="r16c15"><ellipse class="nd" cx="720" cy="1536" rx="36" ry="24"/></g>
<g id="r16c17"><ellipse class="nd" cx="816" cy="1536" rx="36" ry="24"/></g>
<g id="r16c19"><ellipse class="nd" cx="912" cy="1536" rx="36" ry="24"/></g>
<g id="r17c11"><ellipse class="nd" cx="528" cy="1632" rx="36" ry="24"/></g>
<g id="r17c13"><ellipse class="nd" cx="624" cy="1632" rx="36" ry="24"/></g>
<g id="r17c15"><ellipse class="nd" cx="720" cy="1632" rx="36" ry="24"/></g>
<g id="r17c17"><ellipse class="nd" cx="816" cy="1632" rx="36" ry="24"/></g>
<g id="r17c19"><ellipse class="nd" cx="912" cy="1632" rx="36" ry="24"/></g>
<g id="r17c21"><ellipse class="nd" cx="1008" cy="1632" rx="36" ry="24"/></g>
<g id="r18c11"><ellipse class="nd" cx="528" cy="1728" rx="36" ry="24"/></g>
<g id="r18c13"><ellipse class="nd" cx="624" cy="1728" rx="36" ry="24"/></g>
<g id="r18c15"><ellipse class="nd" cx="720" cy="1728" rx="36" ry="24"/></g>
<g id="r18c17"><ellipse class="nd" cx="816" cy="1728" rx="36" ry="24"/></g>
<g id="r18c19"><ellipse class="nd" cx="912" cy="1728" rx="36" ry="24"/></g>
<g id="r18c21"><ellipse class="nd" cx="1008" cy="1728" rx="36" ry="24"/></g>
<g id="r19c11"><ellipse class="nd" cx="528" cy="1824" rx="36" ry="24"/></g>
<g id="r19c13"><ellipse class="nd" cx="624" cy="1824" rx="36" ry="24"/></g>
<g id="r19c15"><ellipse class="nd" cx="720" cy="1824" rx="36" ry="24"/></g>
<g id="r19c17"><ellipse class="nd" cx="816" cy="1824" rx="36" ry="24"/></g>
<g id="r19c19"><ellipse class="nd" cx="912" cy="1824" rx="36" ry="24"/></g>
<g id="r19c21"><ellipse class="nd" cx="1008" cy="1824" rx="36" ry="24"/></g>
<g id="r20c11"><ellipse class="nd" cx="528" cy="1920" rx="36" ry="24"/></g>
<g id="r20c13"><ellipse class="nd" cx="624" cy="1920" rx="36" ry="24"/></g>
<g id="r20c15"><ellipse class="nd" cx="720" cy="1920" rx="36" ry="24"/></g>
<g id="r20c17"><ellipse class="nd" cx="816" cy="1920" rx="36" ry="24"/></g>
<g id="r20c19"><ellipse class="nd" cx="912" cy="1920" rx="36" ry="24"/></g>
<g id="r20c21"><ellipse class="nd" cx="1008" cy="1920" rx="36" ry="24"/></g>
<g id="r20c23"><ellipse class="nd" cx="1104" cy="1920" rx="36" ry="24"/></g>
<g id="r21c11"><ellipse class="nd" cx="528" cy="2016" rx="36" ry="24"/></g>
<g id="r21c13"><ellipse class="nd" cx="624" cy="2016" rx="36" ry="24"/></g>
<g id="r21c15"><ellipse class="nd" cx="720" cy="2016" rx="36" ry="24"/></g>
<g id="r21c17"><ellipse class="nd" cx="816" cy="2016" rx="36" ry="24"/></g>
<g id="r21c19"><ellipse class="nd" cx="912" cy="2016" rx="36" ry="24"/></g>
<g id="r21c21"><ellipse class="nd" cx="1008" cy="2016" rx="36" ry="24"/></g>
<g id="r21c23"><ellipse class="nd" cx="1104" cy="2016" rx="36" ry="24"/></g>
<g id="r21c25"><ellipse class="nd" cx="1200" cy="2016" rx="36" ry="24"/></g>
<g id="r21c27"><ellipse class="nd" cx="1296" cy="2016" rx="36" ry="24"/></g>
<g id="r21c29"><ellipse class="nd" cx="1392" cy="2016" rx="36" ry="24"/></g>
<g id="r22c7"><ellipse class="nd" cx="336" cy="2112" rx="36" ry="24"/></g>
<g id="r22c9"><ellipse class="nd" cx="432" cy="2112" rx="36" ry="24"/></g>
<g id="r22c11"><ellipse class="nd" cx="528" cy="2112" rx="36" ry="24"/></g>
<g id="r22c13"><ellipse class="nd" cx="624" cy="2112" rx="36" ry="24"/></g>
<g id="r22c15"><ellipse class="nd" cx="720" cy="2112" rx="36" ry="24"/></g>
<g id="r22c17"><ellipse class="nd" cx="816" cy="2112" rx="36" ry="24"/></g>
<g id="r22c19"><ellipse class="nd" cx="912" cy="2112" rx="36" ry="24"/></g>
<g id="r22c21"><ellipse class="nd" cx="1008" cy="2112" rx="36" ry="24"/></g>
<g id="r22c23"><ellipse class="nd" cx="1104" cy="2112" rx="36" ry="24"/></g>
<g id="r22c25"><ellipse class="nd" cx="1200" cy="2112" rx="36" ry="24"/></g>
<g id="r22c27"><ellipse class="nd" cx="1296" cy="2112" rx="36" ry="24"/></g>
<g id="r22c29"><ellipse class="nd" cx="1392" cy="2112" rx="36" ry="24"/></g>
<g id="r22c31"><ellipse class="nd" cx="1488" cy="2112" rx="36" ry="24"/></g>
<g id="r22c33"><ellipse class="nd" cx="1584" cy="2112" rx="36" ry="24"/></g>
<g id="r22c35"><ellipse class="nd" cx="1680" cy="2112" rx="36" ry="24"/></g>
<g id="r23c3"><ellipse class="nd" cx="144" cy="2208" rx="36" ry="24"/></g>
<g id="r23c5"><ellipse class="nd" cx="240" cy="2208" rx="36" ry="24"/></g>
<g id="r23c7"><ellipse class="nd" cx="336" cy="2208" rx="36" ry="24"/></g>
<g id="r23c9"><ellipse class="nd" cx="432" cy="2208" rx="36" ry="24"/></g>
<g id="r23c11"><ellipse class="nd" cx="528" cy="2208" rx="36" ry="24"/></g>
<g id="r23c13"><ellipse class="nd" cx="624" cy="2208" rx="36" ry="24"/></g>
<g id="r23c15"><ellipse class="nd" cx="720" cy="2208" rx="36" ry="24"/></g>
<g id="r23c17"><ellipse class="nd" cx="816" cy="2208" rx="36" ry="24"/></g>
<g id="r23c19"><ellipse class="nd" cx="912" cy="2208" rx="36" ry="24"/></g>
<g id="r23c21"><ellipse class="nd" cx="1008" cy="2208" rx="36" ry="24"/></g>
<g id="r23c23"><ellipse class="nd" cx="1104" cy="2208" rx="36" ry="24"/></g>
<g id="r23c25"><ellipse class="nd" cx="1200" cy="2208" rx="36" ry="24"/></g>
<g id="r23c27"><ellipse class="nd" cx="1296" cy="2208" rx="36" ry="24"/></g>
<g id="r23c29"><ellipse class="nd" cx="1392" cy="2208" rx="36" ry="24"/></g>
<g id="r23c31"><ellipse class="nd" cx="1488" cy="2208" rx="36" ry="24"/></g>
<g id="r23c33"><ellipse class="nd" cx="1584" cy="2208" rx="36" ry="24"/></g>
<g id="r23c35"><ellipse class="nd" cx="1680" cy="2208" rx="36" ry="24"/></g>
<g id="r23c37"><ellipse class="nd" cx="1776" cy="2208" rx="36" ry="24"/></g>
<g id="r24c3"><ellipse class="nd" cx="144" cy="2304" rx="36" ry="24"/></g>
<g id="r24c5"><ellipse class="nd" cx="240" cy="2304" rx="36" ry="24"/></g>
<g id="r24c7"><ellipse class="nd" cx="336" cy="2304" rx="36" ry="24"/></g>
<g id="r24c9"><ellipse class="nd" cx="432" cy="2304" rx="36" ry="24"/></g>
<g id="r24c11"><ellipse class="nd" cx="528" cy="2304" rx="36" ry="24"/></g>
<g id="r24c13"><ellipse class="nd" cx="624" cy="2304" rx="36" ry="24"/></g>
<g id="r24c15"><ellipse class="nd" cx="720" cy="2304" rx="36" ry="24"/></g>
<g id="r24c17"><ellipse class="nd" cx="816" cy="2304" rx="36" ry="24"/></g>
<g id="r24c19"><ellipse class="nd" cx="912" cy="2304" rx="36" ry="24"/></g>
<g id="r24c21"><ellipse class="nd" cx="1008" cy="2304" rx="36" ry="24"/></g>
<g id="r24c23"><ellipse class="nd" cx="1104" cy="2304" rx="36" ry="24"/></g>
<g id="r24c25"><ellipse class="nd" cx="1200" cy="2304" rx="36" ry="24"/></g>
<g id="r24c27"><ellipse class="nd" cx="1296" cy="2304" rx="36" ry="24"/></g>
<g id="r24c29"><ellipse class="nd" cx="1392" cy="2304" rx="36" ry="24"/></g>
<g id="r24c31"><ellipse class="nd" cx="1488" cy="2304" rx="36" ry="24"/></g>
<g id="r24c33"><ellipse class="nd" cx="1584" cy="2304" rx="36" ry="24"/></g>
<g id="r24c35"><ellipse class="nd" cx="1680" cy="2304" rx="36" ry="24"/></g>
<g id="r24c37"><ellipse class="nd" cx="1776" cy="2304" rx="36" ry="24"/></g>
<g id="r25c3"><ellipse class="nd" cx="144" cy="2400" rx="36" ry="24"/></g>
<g id="r25c5"><ellipse class="nd" cx="240" cy="2400" rx="36" ry="24"/></g>
<g id="r25c7"><ellipse class="nd" cx="336" cy="2400" rx="36" ry="24"/></g>
<g id="r25c9"><ellipse class="nd" cx="432" cy="2400" rx="36" ry="24"/></g>
<g id="r25c11"><ellipse class="nd" cx="528" cy="2400" rx="36" ry="24"/></g>
<g id="r25c13"><ellipse class="nd" cx="624" cy="2400" rx="36" ry="24"/></g>
<g id="r25c15"><ellipse class="nd" cx="720" cy="2400" rx="36" ry="24"/></g>
<g id="r25c17"><ellipse class="nd" cx="816" cy="2400" rx="36" ry="24"/></g>
<g id="r25c19"><ellipse class="nd" cx="912" cy="2400" rx="36" ry="24"/></g>
<g id="r25c21"><ellipse class="nd" cx="1008" cy="2400" rx="36" ry="24"/></g>
<g id="r25c23"><ellipse class="nd" cx="1104" cy="2400" rx="36" ry="24"/></g>
<g id="r25c25"><ellipse class="nd" cx="1200" cy="2400" rx="36" ry="24"/></g>
<g id="r25c27"><ellipse class="nd" cx="1296" cy="2400" rx="36" ry="24"/></g>
<g id="r25c29"><ellipse class="nd" cx="1392" cy="2400" rx="36" ry="24"/></g>
<g id="r25c31"><ellipse class="nd" cx="1488" cy="2400" rx="36" ry="24"/></g>
<g id="r25c33"><ellipse class="nd" cx="1584" cy="2400" rx="36" ry="24"/></g>
<g id="r25c35"><ellipse class="nd" cx="1680" cy="2400" rx="36" ry="24"/></g>
<g id="r26c5"><ellipse class="nd" cx="240" cy="2496" rx="36" ry="24"/></g>
<g id="r26c7"><ellipse class="nd" cx="336" cy="2496" rx="36" ry="24"/></g>
<g id="r26c9"><ellipse class="nd" cx="432" cy="2496" rx="36" ry="24"/></g>
<g id="r26c11"><ellipse class="nd" cx="528" cy="2496" rx="36" ry="24"/></g>
<g id="r26c13"><ellipse class="nd" cx="624" cy="2496" rx="36" ry="24"/></g>
<g id="r26c15"><ellipse class="nd" cx="720" cy="2496" rx="36" ry="24"/></g>
<g id="r26c17"><ellipse class="nd" cx="816" cy="2496" rx="36" ry="24"/></g>
<g id="r26c19"><ellipse class="nd" cx="912" cy="2496" rx="36" ry="24"/></g>
<g id="r26c21"><ellipse class="nd" cx="1008" cy="2496" rx="36" ry="24"/></g>
<g id="r26c23"><ellipse class="nd" cx="1104" cy="2496" rx="36" ry="24"/></g>
<g id="r26c25"><ellipse class="nd" cx="1200" cy="2496" rx="36" ry="24"/></g>
<g id="r26c27"><ellipse class="nd" cx="1296" cy="2496" rx="36" ry="24"/></g>
<g id="r26c29"><ellipse class="nd" cx="1392" cy="2496" rx="36" ry="24"/></g>
<g id="r26c31"><ellipse class="nd" cx="1488" cy="2496" rx="36" ry="24"/></g>
<g id="r27c9"><ellipse class="nd" cx="432" cy="2592" rx="36" ry="24"/></g>
<g id="r27c11"><ellipse class="nd" cx="528" cy="2592" rx="36" ry="24"/></g>
<g id="r27c13"><ellipse class="nd" cx="624" cy="2592" rx="36" ry="24"/></g>
<g id="r27c15"><ellipse class="nd" cx="720" cy="2592" rx="36" ry="24"/></g>
<g id="r27c17"><ellipse class="nd" cx="816" cy="2592" rx="36" ry="24"/></g>
<g id="r27c19"><ellipse class="nd" cx="912" cy="2592" rx="36" ry="24"/></g>
<g id="r27c21"><ellipse class="nd" cx="1008" cy="2592" rx="36" ry="24"/></g>
<g id="r27c23"><ellipse class="nd" cx="1104" cy="2592" rx="36" ry="24"/></g>
<g id="r27c25"><ellipse class="nd" cx="1200" cy="2592" rx="36" ry="24"/></g>
<g id="r28c11"><ellipse class="nd" cx="528" cy="2688" rx="36" ry="24"/></g>
<g id="r28c13"><ellipse class="nd" cx="624" cy="2688" rx="36" ry="24"/></g>
<g id="r28c15"><ellipse class="nd" cx="720" cy="2688" rx="36" ry="24"/></g>
<g id="r28c17"><ellipse class="nd" cx="816" cy="2688" rx="36" ry="24"/></g>
<g id="r28c19"><ellipse class="nd" cx="912" cy="2688" rx="36" ry="24"/></g>
<g id="r28c21"><ellipse class="nd" cx="1008" cy="2688" rx="36" ry="24"/></g>
<g id="r29c14"><ellipse class="nd" cx="672" cy="2784" rx="36" ry="24"/></g>
<g id="r29c16"><ellipse class="nd" cx="768" cy="2784" rx="36" ry="24"/></g>
<g id="r29c18"><ellipse class="nd" cx="864" cy="2784" rx="36" ry="24"/></g>
<g id="r30c14"><ellipse class="nd" cx="672" cy="2880" rx="36" ry="24"/></g>
<g id="r30c16"><ellipse class="nd" cx="768" cy="2880" rx="36" ry="24"/></g>
<g id="r30c18"><ellipse class="nd" cx="864" cy="2880" rx="36" ry="24"/></g>
<g id="r31c10"><ellipse class="nd" cx="480" cy="2976" rx="36" ry="24"/></g>
<g id="r31c12"><ellipse class="nd" cx="576" cy="2976" rx="36" ry="24"/></g>
<g id="r31c14"><ellipse class="nd" cx="672" cy="2976" rx="36" ry="24"/></g>
<g id="r31c16"><ellipse class="nd" cx="768" cy="2976" rx="36" ry="24"/></g>
<g id="r31c18"><ellipse class="nd" cx="864" cy="2976" rx="36" ry="24"/></g>
<g id="r31c20"><ellipse class="nd" cx="960" cy="2976" rx="36" ry="24"/></g>
<g id="r32c10"><ellipse class="nd" cx="480" cy="3072" rx="36" ry="24"/></g>
<g id="r32c12"><ellipse class="nd" cx="576" cy="3072" rx="36" ry="24"/></g>
<g id="r32c14"><ellipse class="nd" cx="672" cy="3072" rx="36" ry="24"/></g>
<g id="r32c16"><ellipse class="nd" cx="768" cy="3072" rx="36" ry="24"/></g>
<g id="r32c18"><ellipse class="nd" cx="864" cy="3072" rx="36" ry="24"/></g>
<g id="r32c20"><ellipse class="nd" cx="960" cy="3072" rx="36" ry="24"/></g>
<g id="r33c13"><ellipse class="nd" cx="624" cy="3168" rx="36" ry="24"/></g>
<g id="r33c15"><ellipse class="nd" cx="720" cy="3168" rx="36" ry="24"/></g>
<g id="r33c17"><ellipse class="nd" cx="816" cy="3168" rx="36" ry="24"/></g>
<g id="r33c19"><ellipse class="nd" cx="912" cy="3168" rx="36" ry="24"/></g>
</g>
</g>
</svg>
